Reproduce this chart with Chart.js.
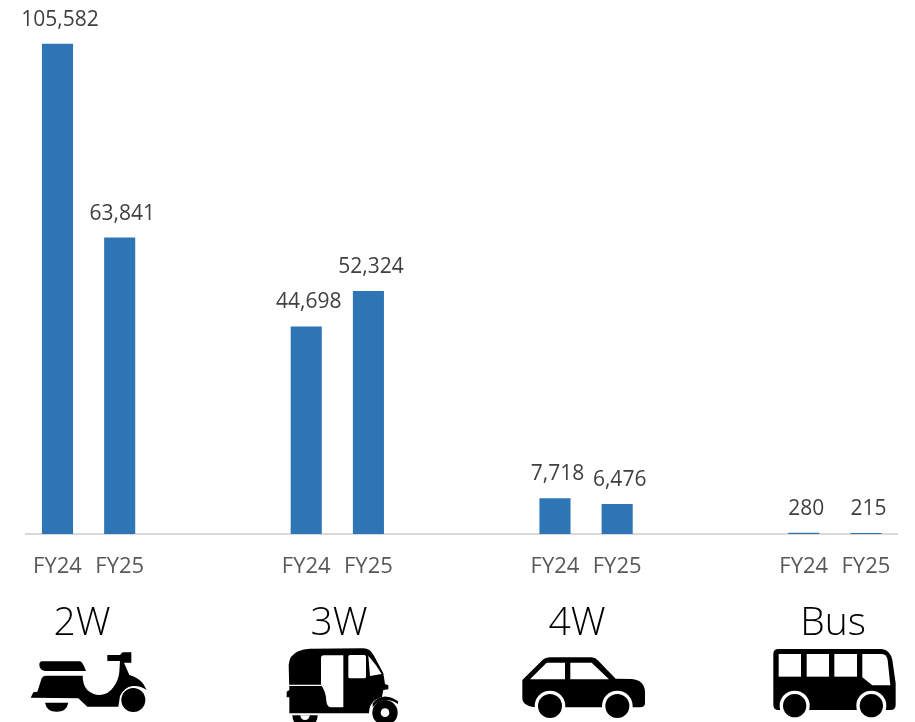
<!DOCTYPE html>
<html>
<head>
<meta charset="utf-8">
<script src="https://cdn.jsdelivr.net/npm/chart.js@4"></script>
<style>
  html, body { margin: 0; padding: 0; background: #fff; }
  canvas { display: block; }
</style>
</head>
<body>
<canvas id="canvas" width="915" height="722"></canvas>
<script>
// two empty slots between each vehicle group
var categories = ['FY24', 'FY25', '', '', 'FY24', 'FY25', '', '', 'FY24', 'FY25', '', '', 'FY24', 'FY25'];
var sales = [105582, 63841, null, null, 44698, 52324, null, null, 7718, 6476, null, null, 280, 215];
var groupLabels = ['2W', '3W', '4W', 'Bus'];

var fontName = '"Open Sans", sans-serif';
var groupLabelX = [82, 339, 577, 833];

function disc(ctx, x, y, r, color) {
  ctx.fillStyle = color;
  ctx.beginPath();
  ctx.arc(x, y, r, 0, Math.PI * 2);
  ctx.fill();
}

function poly(ctx, svgPath, color) {
  ctx.fillStyle = color;
  ctx.fill(new Path2D(svgPath));
}

// icons are in 3x coordinates
function drawScooter(ctx) {
  poly(ctx, 'M126 214 H240 Q248 216 258 243 H135 Q118 240 118 224 Q118 215 126 214 Z', '#000');
  poly(ctx, 'M92 323 L100 307 L112 305 L125 265 Q128 257 137 257 H248 Q248 285 262 300 Q280 316 300 315 Q325 314 340 292 Q356 270 358 245 L360 213 H322 V195 H360 L368 187 H394 V218 H372 L388 255 Q415 262 430 282 L440 300 Q420 286 398 288 Q372 292 360 318 L355 350 H262 L235 325 Z', '#000');
  disc(ctx, 400, 330, 36, '#000');
  poly(ctx, 'M135 338 H205 Q200 365 170 365 Q140 365 135 338 Z', '#000');
}

function drawRickshaw(ctx) {
  poly(ctx, 'M866 225 Q868 195 895 184 Q910 177 930 176 L1090 175 Q1110 175 1122 197 L1150 250 L1155 282 L1165 286 V298 L1150 300 L1145 325 L1120 345 L1112 370 H868 V322 H860 V305 L868 300 Z', '#000');
  poly(ctx, 'M970 196 H1030 V352 H992 Q980 350 979 332 Q978 305 963 285 V203 Q963 197 970 196 Z', '#fff');
  poly(ctx, 'M1050 195 H1093 Q1098 195 1098 200 V260 Q1098 265 1093 265 H1050 Q1045 265 1045 260 V200 Q1045 195 1050 195 Z', '#fff');
  poly(ctx, 'M1105 197 Q1130 225 1145 252 L1110 258 Z', '#fff');
  poly(ctx, 'M866 284 H964 V288 H866 Z', '#fff');
  disc(ctx, 1155, 368, 48, '#fff');
  poly(ctx, 'M1118 340 Q1135 318 1160 320 Q1180 322 1194 334 V342 Q1170 325 1145 332 Q1130 336 1118 352 Z', '#000');
  disc(ctx, 1155, 368, 38, '#000');
  disc(ctx, 1155, 368, 13, '#fff');
  ctx.save();
  ctx.beginPath();
  ctx.rect(860, 376, 110, 30);
  ctx.clip();
  disc(ctx, 915, 376, 38, '#000');
  disc(ctx, 915, 376, 14, '#fff');
  ctx.restore();
}

function drawCar(ctx) {
  poly(ctx, 'M172 270 L235 208 Q245 202 255 202 H380 Q392 203 400 212 L452 266 L500 267 Q538 270 540 305 V340 Q540 352 525 352 H210 Q190 350 178 340 Q172 335 172 325 Z', '#000');
  poly(ctx, 'M195 268 L245 218 H300 V268 Z', '#fff');
  poly(ctx, 'M316 218 H380 L432 268 H316 Z', '#fff');
  disc(ctx, 255, 348, 46, '#fff');
  disc(ctx, 457, 348, 46, '#fff');
  disc(ctx, 255, 348, 36, '#000');
  disc(ctx, 457, 348, 36, '#000');
}

function drawBus(ctx) {
  poly(ctx, 'M925 192 Q925 177 940 177 H1250 Q1276 180 1282 210 L1292 280 V345 Q1292 360 1277 360 H940 Q925 360 925 345 Z', '#000');
  poly(ctx, 'M941 192 H1008 V260 H941 Z', '#fff');
  poly(ctx, 'M1025 192 H1092 V260 H1025 Z', '#fff');
  poly(ctx, 'M1108 192 H1176 V260 H1108 Z', '#fff');
  poly(ctx, 'M1192 192 H1250 Q1265 192 1268 210 L1276 286 H1222 L1192 262 Z', '#fff');
  disc(ctx, 989, 347, 45, '#fff');
  disc(ctx, 1219, 347, 45, '#fff');
  disc(ctx, 989, 347, 35, '#000');
  disc(ctx, 1219, 347, 35, '#000');
}

var extras = {
  id: 'extras',
  afterDatasetsDraw: function(chart) {
    var ctx = chart.ctx;
    // value labels over the bars
    ctx.save();
    ctx.font = '21px ' + fontName;
    ctx.fillStyle = '#404040';
    ctx.textAlign = 'center';
    ctx.textBaseline = 'middle';
    chart.getDatasetMeta(0).data.forEach(function(bar, i) {
      if (sales[i] === null) return;
      ctx.fillText(sales[i].toLocaleString('en-US'), bar.x + 2.5, bar.y - 24);
    });
    // vehicle group names
    ctx.font = '300 39px ' + fontName;
    ctx.fillStyle = '#000';
    groupLabels.forEach(function(label, i) {
      ctx.fillText(label, groupLabelX[i], 624);
    });
    ctx.restore();

    ctx.save();
    ctx.translate(0, 590);
    ctx.scale(1 / 3, 1 / 3);
    drawScooter(ctx);
    drawRickshaw(ctx);
    ctx.restore();

    ctx.save();
    ctx.translate(465, 590);
    ctx.scale(1 / 3, 1 / 3);
    drawCar(ctx);
    drawBus(ctx);
    ctx.restore();
  }
};

new Chart(document.getElementById('canvas'), {
  type: 'bar',
  data: {
    labels: categories,
    datasets: [{
      data: sales,
      backgroundColor: '#2E75B6',
      barPercentage: 0.5,
      categoryPercentage: 1
    }]
  },
  options: {
    responsive: false,
    animation: false,
    layout: { padding: { left: 26.4, right: 18, top: 0, bottom: 0 } },
    plugins: { legend: { display: false }, title: { display: false }, tooltip: { enabled: false } },
    scales: {
      x: {
        afterFit: function(scale) { scale.height = 188; },
        grid: { display: false, drawTicks: false },
        border: { color: '#D9D9D9', width: 2 },
        ticks: {
          autoSkip: false,
          maxRotation: 0,
          padding: 20,
          color: '#595959',
          font: { family: fontName, size: 22 }
        }
      },
      y: {
        display: false,
        min: 0,
        max: 115000
      }
    }
  },
  plugins: [extras]
});
</script>
</body>
</html>
